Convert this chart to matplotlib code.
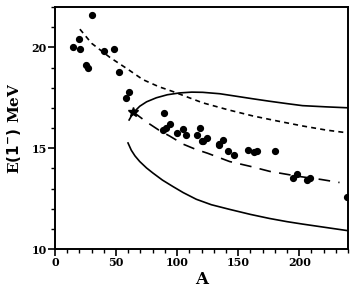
import matplotlib
matplotlib.use("Agg")
import matplotlib.pyplot as plt
from matplotlib.ticker import MultipleLocator

# measured points
mass_a = [14.5, 19.6, 20.4, 25.5, 26.7, 30.0, 40.3, 48.4, 52.2, 58.5, 60.4,
          88.4, 89.0, 91.2, 94.4, 99.8, 104.7, 107.5, 116.5, 118.4, 120.3,
          121.0, 124.3, 133.9, 134.7, 137.4, 142.0, 146.4, 158.4, 163.3,
          165.1, 179.8, 195.1, 197.8, 206.5, 209.2, 239.0]
energy = [20.0, 20.4, 19.9, 19.1, 19.0, 21.6, 19.8, 19.9, 18.8, 17.5, 17.8,
          15.9, 16.75, 16.0, 16.2, 15.75, 15.97, 15.64, 15.64, 16.0, 15.34,
          15.34, 15.5, 15.17, 15.22, 15.42, 14.84, 14.68, 14.93, 14.81,
          14.84, 14.84, 13.52, 13.72, 13.40, 13.52, 12.6]

star_a = [64.0]
star_e = [16.8]

# short dashed curve
sd_a = [20.4, 30, 45, 60, 72, 85, 97, 110, 121, 142, 162, 182, 203, 222, 241]
sd_e = [20.9, 20.2, 19.5, 18.9, 18.4, 18.05, 17.8, 17.5, 17.25, 16.9, 16.6, 16.35, 16.1, 15.9, 15.75]

# long dashed curve
ld_a = [64, 75, 85, 94, 105, 115, 125, 143, 160, 176, 200, 218, 233]
ld_e = [16.8, 16.3, 15.9, 15.6, 15.2, 14.95, 14.75, 14.34, 14.1, 13.85, 13.6, 13.45, 13.3]

# upper solid branch
us_a = [60.7, 64, 69.4, 75, 83, 92, 102, 112, 121, 135, 148, 162, 175.5, 190, 202.7, 222, 241]
us_e = [16.4, 16.75, 17.08, 17.3, 17.5, 17.65, 17.74, 17.78, 17.77, 17.7, 17.58, 17.45,
        17.33, 17.21, 17.11, 17.05, 17.0]

# lower solid branch
ls_a = [59.8, 62.5, 65.5, 69.4, 75, 80.2, 88, 96.6, 105, 115.7, 128, 142.9, 160,
        175.5, 190, 202.7, 222, 240.2]
ls_e = [15.26, 14.9, 14.62, 14.34, 14.02, 13.77, 13.42, 13.1, 12.8, 12.47, 12.2, 11.97,
        11.72, 11.52, 11.36, 11.24, 11.07, 10.91]

plt.rcParams['font.family'] = ['DejaVu Serif']
plt.rcParams['font.weight'] = 'bold'

fig = plt.figure(figsize=(3.57, 2.91), dpi=100)
ax = fig.add_axes([0.154, 0.144, 0.821, 0.832])

ax.plot(sd_a, sd_e, color='black', lw=1.2, linestyle=(0, (3, 2.5)))
ax.plot(ld_a, ld_e, color='black', lw=1.2, linestyle=(0, (7, 5)))
ax.plot(us_a, us_e, color='black', lw=1.2)
ax.plot(ls_a, ls_e, color='black', lw=1.2)
ax.plot(mass_a, energy, 'o', color='black', markersize=4.2)
ax.plot(star_a, star_e, '*', color='black', markersize=7.5)

ax.set_xlim(0, 240)
ax.set_ylim(10, 22)
ax.xaxis.set_major_locator(MultipleLocator(50))
ax.xaxis.set_minor_locator(MultipleLocator(10))
ax.yaxis.set_major_locator(MultipleLocator(5))
ax.yaxis.set_minor_locator(MultipleLocator(1))
ax.tick_params(which='major', length=5, width=1.2, labelsize=8, pad=1)
ax.tick_params(which='minor', length=3, width=1.0)
for lab in ax.get_xticklabels() + ax.get_yticklabels():
    lab.set_fontweight('bold')
for sp in ax.spines.values():
    sp.set_linewidth(1.4)

ax.set_xlabel("A", fontsize=12, fontweight='bold', labelpad=2)
ax.set_ylabel("E$(1^{-})$ MeV", fontsize=11, fontweight='bold', labelpad=6)

fig.savefig("out.png", dpi=100)
